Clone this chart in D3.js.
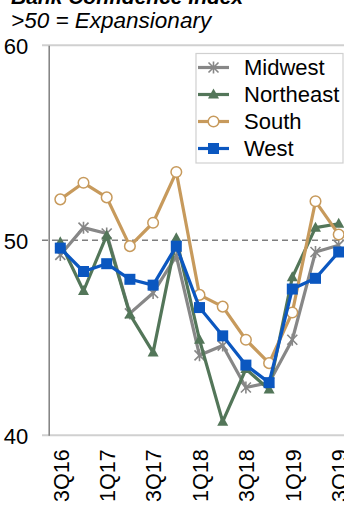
<!DOCTYPE html>
<html>
<head>
<meta charset="utf-8">
<script src="https://cdn.jsdelivr.net/npm/d3@7/dist/d3.min.js"></script>
<style>
  html, body { margin: 0; padding: 0; background: #fff; }
  svg { display: block; font-family: "Liberation Sans", Arial, sans-serif; }
</style>
</head>
<body>
<svg id="chart" width="344" height="505"></svg>
<script>
// Quarterly index readings by region
const quarters = ["3Q16","4Q16","1Q17","2Q17","3Q17","4Q17","1Q18","2Q18","3Q18","4Q18","1Q19","2Q19","3Q19"];
const midwest   = [49.25, 50.65, 50.35, 46.25, 47.3, 49.2, 44.1, 44.6, 42.45, 42.7, 44.9, 49.4, 49.75];
const northeast = [49.9, 47.4, 50.25, 46.2, 44.25, 50.1, 44.9, 40.7, 43.4, 42.35, 48.1, 50.65, 50.85];
const south     = [52.1, 52.95, 52.2, 49.7, 50.9, 53.5, 47.2, 46.6, 44.9, 43.7, 46.3, 52.0, 50.3];
const west      = [49.6, 48.4, 48.8, 48.0, 47.7, 49.7, 46.55, 45.1, 43.6, 42.7, 47.5, 48.05, 49.4];
const yTicks = [40, 50, 60];
const xTickLabels = ["3Q16","1Q17","3Q17","1Q18","3Q18","1Q19","3Q19"];
const threshold = 50;

const series = [
  { name: "Midwest",   values: midwest,   color: "#878787", marker: "star" },
  { name: "Northeast", values: northeast, color: "#537659", marker: "triangle" },
  { name: "South",     values: south,     color: "#c79a5c", marker: "circle" },
  { name: "West",      values: west,      color: "#0b57c0", marker: "square" }
];

const svg = d3.select("#chart");

const x = d3.scalePoint().domain(quarters).range([48.7, 350.3]).padding(0.5);
const y = d3.scaleLinear().domain([40, 60]).range([435.3, 45.3]);

// Title and subtitle
svg.append("text").attr("x", 11).attr("y", 4)
  .attr("font-size", 21).attr("font-weight", "bold").attr("font-style", "italic")
  .attr("fill", "#000").text("Bank Confidence Index");
svg.append("text").attr("x", 11).attr("y", 28)
  .attr("font-size", 22.5).attr("font-style", "italic")
  .attr("fill", "#000").text(">50 = Expansionary");

// Horizontal rules at 40 and 60, dashed reference line at 50
const g = svg.append("g");
g.selectAll("line.grid").data(yTicks.filter(t => t !== threshold)).join("line")
  .attr("class", "grid")
  .attr("x1", 42).attr("x2", 344)
  .attr("y1", d => y(d)).attr("y2", d => y(d))
  .attr("stroke", "#d0d0d0").attr("stroke-width", 2);
g.append("line")
  .attr("x1", 42).attr("x2", 344)
  .attr("y1", y(threshold)).attr("y2", y(threshold))
  .attr("stroke", "#7f7f7f").attr("stroke-width", 1.5).attr("stroke-dasharray", "6,4");

// Y axis
const yAxis = d3.axisLeft(y).tickValues(yTicks).tickSize(0).tickPadding(0).tickFormat(d3.format("d"));
const ya = svg.append("g").attr("transform", "translate(48.7,0)").call(yAxis);
ya.select(".domain").attr("stroke", "#808080").attr("stroke-width", 1.5);
ya.selectAll("text").attr("x", -20.5).attr("dy", "0.35em")
  .attr("font-size", 22).attr("font-family", "Liberation Sans, Arial, sans-serif").attr("fill", "#000");

// X axis labels (every other quarter), rotated
const xAxis = d3.axisBottom(x).tickValues(xTickLabels).tickSize(0).tickPadding(0);
const xa = svg.append("g").attr("transform", `translate(0,${y(40)})`).call(xAxis);
xa.select(".domain").remove();
xa.selectAll("text")
  .attr("font-size", 21.5).attr("font-family", "Liberation Sans, Arial, sans-serif").attr("fill", "#000")
  .attr("text-anchor", "end")
  .attr("transform", "rotate(-90)")
  .attr("x", -14).attr("y", 0).attr("dy", "0.36em");

// Marker drawing
function drawMarker(sel, type, color) {
  if (type === "star") {
    const s = 5;
    sel.append("path")
      .attr("d", `M${-s},${-s}L${s},${s}M${-s},${s}L${s},${-s}M0,${-s - 1}L0,${s + 1}`)
      .attr("stroke", color).attr("stroke-width", 1.6).attr("fill", "none");
  } else if (type === "triangle") {
    sel.append("path").attr("d", "M0,-6L5.5,4L-5.5,4Z").attr("fill", color);
  } else if (type === "circle") {
    sel.append("circle").attr("r", 5.3).attr("fill", "#fff").attr("stroke", color).attr("stroke-width", 1.5);
  } else if (type === "square") {
    sel.append("rect").attr("x", -5.5).attr("y", -5.5).attr("width", 11).attr("height", 11).attr("fill", color);
  }
}

const line = d3.line().x((d, i) => x(quarters[i])).y(d => y(d));

series.forEach(s => {
  const sg = svg.append("g");
  sg.append("path").datum(s.values).attr("d", line)
    .attr("fill", "none").attr("stroke", s.color).attr("stroke-width", 3.2)
    .attr("stroke-linejoin", "round");
  sg.selectAll("g.m").data(s.values).join("g")
    .attr("class", "m")
    .attr("transform", (d, i) => `translate(${x(quarters[i])},${y(d)})`)
    .each(function() { drawMarker(d3.select(this), s.marker, s.color); });
});

// Legend
const lg = svg.append("g");
lg.append("rect").attr("x", 196).attr("y", 53.5).attr("width", 147).attr("height", 109.5)
  .attr("fill", "#fff").attr("stroke", "#d0d0d0").attr("stroke-width", 1.2);
series.forEach((s, i) => {
  const cy = 67.5 + i * 27;
  const row = lg.append("g").attr("transform", `translate(0,${cy})`);
  row.append("line").attr("x1", 198).attr("x2", 229).attr("y1", 0).attr("y2", 0)
    .attr("stroke", s.color).attr("stroke-width", 3.2);
  drawMarker(row.append("g").attr("transform", "translate(213.5,0)"), s.marker, s.color);
  row.append("text").attr("x", 244).attr("y", 0).attr("dy", "0.35em")
    .attr("font-size", 22).attr("fill", "#000").text(s.name);
});
</script>
</body>
</html>
